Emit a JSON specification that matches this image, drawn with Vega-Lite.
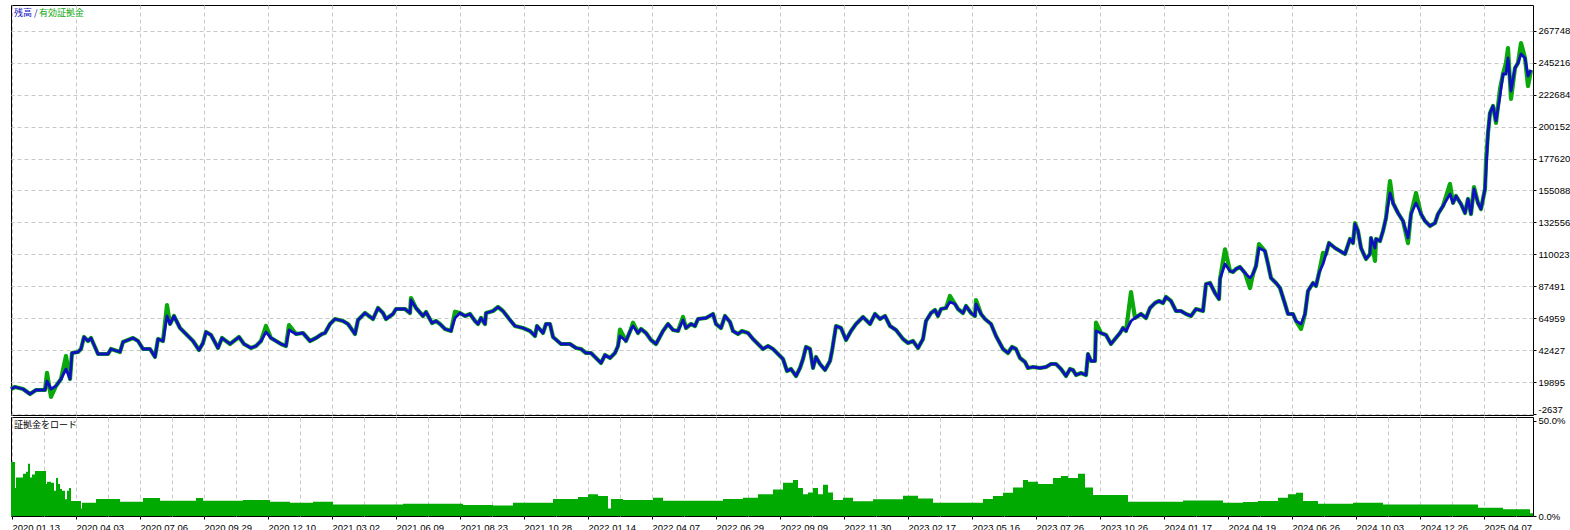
{
  "$schema": "https://vega.github.io/schema/vega-lite/v6.json",
  "background": "white",
  "padding": {"left": 8, "top": 4, "right": 0, "bottom": 0},
  "spacing": 2,
  "bounds": "flush",
  "config": {
    "view": {"stroke": "black", "strokeWidth": 1},
    "axis": {"labelFont": "Liberation Sans", "labelFontSize": 9.5, "labelColor": "#000000", "domain": false, "title": null, "labelOverlap": false, "labelSeparation": 0},
    "axisY": {"labelOverlap": false},
    "legend": {"padding": 0}
  },
  "resolve": {"scale": {"x": "shared", "y": "independent", "color": "independent"}, "legend": {"color": "independent"}},
  "datasets": {
    "eq": [
      {"t": -1, "balance": 15101, "equity": 15101},
      {"t": 3, "balance": 16512, "equity": 16512},
      {"t": 11, "balance": 15101, "equity": 15101},
      {"t": 18, "balance": 11575, "equity": 11575},
      {"t": 24, "balance": 14396, "equity": 14396},
      {"t": 33, "balance": 14396, "equity": 14396},
      {"t": 35, "balance": 20743, "equity": 26562},
      {"t": 39, "balance": 15101, "equity": 9457},
      {"t": 44, "balance": 17217, "equity": 17217},
      {"t": 49, "balance": 22153, "equity": 22153},
      {"t": 54, "balance": 29205, "equity": 38373},
      {"t": 58, "balance": 22153, "equity": 22153},
      {"t": 60, "balance": 40489, "equity": 40489},
      {"t": 66, "balance": 41194, "equity": 41194},
      {"t": 69, "balance": 43309, "equity": 43309},
      {"t": 72, "balance": 51772, "equity": 51772},
      {"t": 76, "balance": 48951, "equity": 48951},
      {"t": 79, "balance": 51067, "equity": 51067},
      {"t": 86, "balance": 39783, "equity": 39783},
      {"t": 96, "balance": 39783, "equity": 39783},
      {"t": 99, "balance": 43309, "equity": 43309},
      {"t": 108, "balance": 41194, "equity": 41194},
      {"t": 111, "balance": 48246, "equity": 48246},
      {"t": 121, "balance": 51067, "equity": 51067},
      {"t": 126, "balance": 48951, "equity": 48951},
      {"t": 131, "balance": 43309, "equity": 43309},
      {"t": 138, "balance": 43309, "equity": 43309},
      {"t": 143, "balance": 37668, "equity": 37668},
      {"t": 146, "balance": 50361, "equity": 50361},
      {"t": 151, "balance": 48951, "equity": 48951},
      {"t": 155, "balance": 66581, "equity": 74339},
      {"t": 158, "balance": 60939, "equity": 60939},
      {"t": 162, "balance": 66581, "equity": 66581},
      {"t": 168, "balance": 58119, "equity": 58119},
      {"t": 174, "balance": 53887, "equity": 53887},
      {"t": 181, "balance": 48951, "equity": 48951},
      {"t": 187, "balance": 42604, "equity": 42604},
      {"t": 191, "balance": 47541, "equity": 47541},
      {"t": 194, "balance": 55298, "equity": 55298},
      {"t": 199, "balance": 53182, "equity": 53182},
      {"t": 206, "balance": 44015, "equity": 44015},
      {"t": 210, "balance": 51067, "equity": 51067},
      {"t": 218, "balance": 46835, "equity": 46835},
      {"t": 227, "balance": 51772, "equity": 51772},
      {"t": 232, "balance": 46835, "equity": 46835},
      {"t": 239, "balance": 44015, "equity": 44015},
      {"t": 244, "balance": 45425, "equity": 45425},
      {"t": 249, "balance": 48951, "equity": 48951},
      {"t": 254, "balance": 55298, "equity": 59529},
      {"t": 259, "balance": 51067, "equity": 51067},
      {"t": 264, "balance": 48951, "equity": 48951},
      {"t": 269, "balance": 46835, "equity": 46835},
      {"t": 274, "balance": 45425, "equity": 45425},
      {"t": 277, "balance": 56708, "equity": 60234},
      {"t": 284, "balance": 53887, "equity": 53887},
      {"t": 291, "balance": 54593, "equity": 54593},
      {"t": 298, "balance": 48951, "equity": 48951},
      {"t": 304, "balance": 51067, "equity": 51067},
      {"t": 310, "balance": 53887, "equity": 53887},
      {"t": 313, "balance": 54593, "equity": 54593},
      {"t": 318, "balance": 60939, "equity": 60939},
      {"t": 323, "balance": 64465, "equity": 64465},
      {"t": 331, "balance": 63055, "equity": 63055},
      {"t": 336, "balance": 60939, "equity": 60939},
      {"t": 343, "balance": 53887, "equity": 53887},
      {"t": 346, "balance": 63760, "equity": 63760},
      {"t": 353, "balance": 68697, "equity": 68697},
      {"t": 361, "balance": 64465, "equity": 64465},
      {"t": 366, "balance": 72223, "equity": 72223},
      {"t": 371, "balance": 68697, "equity": 68697},
      {"t": 374, "balance": 64465, "equity": 64465},
      {"t": 381, "balance": 67991, "equity": 67991},
      {"t": 384, "balance": 71517, "equity": 71517},
      {"t": 393, "balance": 71517, "equity": 71517},
      {"t": 398, "balance": 68697, "equity": 68697},
      {"t": 399, "balance": 77864, "equity": 79275},
      {"t": 404, "balance": 72223, "equity": 72223},
      {"t": 411, "balance": 66581, "equity": 66581},
      {"t": 414, "balance": 69402, "equity": 69402},
      {"t": 420, "balance": 61645, "equity": 61645},
      {"t": 424, "balance": 63055, "equity": 63055},
      {"t": 428, "balance": 60939, "equity": 60939},
      {"t": 433, "balance": 57413, "equity": 57413},
      {"t": 439, "balance": 56003, "equity": 56003},
      {"t": 443, "balance": 65171, "equity": 69590},
      {"t": 448, "balance": 68697, "equity": 68697},
      {"t": 453, "balance": 66581, "equity": 66581},
      {"t": 458, "balance": 67991, "equity": 67991},
      {"t": 463, "balance": 63055, "equity": 63055},
      {"t": 466, "balance": 60939, "equity": 60939},
      {"t": 469, "balance": 65171, "equity": 65171},
      {"t": 473, "balance": 60939, "equity": 60939},
      {"t": 474, "balance": 68697, "equity": 68697},
      {"t": 481, "balance": 70107, "equity": 70107},
      {"t": 486, "balance": 72928, "equity": 72928},
      {"t": 491, "balance": 70107, "equity": 70107},
      {"t": 498, "balance": 63760, "equity": 63760},
      {"t": 503, "balance": 59529, "equity": 59529},
      {"t": 511, "balance": 58119, "equity": 58119},
      {"t": 518, "balance": 56003, "equity": 56003},
      {"t": 523, "balance": 52477, "equity": 52477},
      {"t": 525, "balance": 59529, "equity": 59529},
      {"t": 531, "balance": 54593, "equity": 54593},
      {"t": 534, "balance": 60939, "equity": 60939},
      {"t": 538, "balance": 60939, "equity": 60939},
      {"t": 541, "balance": 51772, "equity": 51772},
      {"t": 549, "balance": 46835, "equity": 46835},
      {"t": 558, "balance": 46835, "equity": 46835},
      {"t": 564, "balance": 44015, "equity": 44015},
      {"t": 569, "balance": 43309, "equity": 43309},
      {"t": 574, "balance": 40489, "equity": 40489},
      {"t": 579, "balance": 40489, "equity": 40489},
      {"t": 584, "balance": 36963, "equity": 36963},
      {"t": 589, "balance": 33437, "equity": 33437},
      {"t": 593, "balance": 39078, "equity": 39078},
      {"t": 598, "balance": 36963, "equity": 36963},
      {"t": 603, "balance": 40489, "equity": 40489},
      {"t": 606, "balance": 45425, "equity": 45425},
      {"t": 608, "balance": 52477, "equity": 57000},
      {"t": 614, "balance": 48951, "equity": 48951},
      {"t": 619, "balance": 57413, "equity": 57413},
      {"t": 621, "balance": 59529, "equity": 61857},
      {"t": 626, "balance": 54593, "equity": 54593},
      {"t": 629, "balance": 57413, "equity": 57413},
      {"t": 634, "balance": 54593, "equity": 54593},
      {"t": 639, "balance": 49656, "equity": 49656},
      {"t": 644, "balance": 46835, "equity": 46835},
      {"t": 651, "balance": 56003, "equity": 56003},
      {"t": 656, "balance": 60939, "equity": 60939},
      {"t": 661, "balance": 56708, "equity": 56708},
      {"t": 666, "balance": 56003, "equity": 56003},
      {"t": 671, "balance": 63760, "equity": 65876},
      {"t": 674, "balance": 58119, "equity": 58119},
      {"t": 679, "balance": 60939, "equity": 60939},
      {"t": 683, "balance": 59529, "equity": 59529},
      {"t": 686, "balance": 64465, "equity": 64465},
      {"t": 694, "balance": 65171, "equity": 65171},
      {"t": 701, "balance": 67991, "equity": 67991},
      {"t": 704, "balance": 60939, "equity": 60939},
      {"t": 709, "balance": 58119, "equity": 58119},
      {"t": 713, "balance": 66581, "equity": 66581},
      {"t": 718, "balance": 62350, "equity": 62350},
      {"t": 721, "balance": 56003, "equity": 56003},
      {"t": 726, "balance": 53887, "equity": 53887},
      {"t": 730, "balance": 56003, "equity": 56003},
      {"t": 736, "balance": 54593, "equity": 54593},
      {"t": 741, "balance": 50361, "equity": 50361},
      {"t": 746, "balance": 46835, "equity": 46835},
      {"t": 751, "balance": 43309, "equity": 43309},
      {"t": 756, "balance": 45425, "equity": 45425},
      {"t": 761, "balance": 43309, "equity": 43309},
      {"t": 766, "balance": 39783, "equity": 39783},
      {"t": 771, "balance": 36257, "equity": 36257},
      {"t": 775, "balance": 27795, "equity": 27795},
      {"t": 779, "balance": 29205, "equity": 29205},
      {"t": 784, "balance": 24269, "equity": 24269},
      {"t": 788, "balance": 29911, "equity": 29911},
      {"t": 791, "balance": 36257, "equity": 36257},
      {"t": 794, "balance": 44719, "equity": 44719},
      {"t": 798, "balance": 43309, "equity": 43309},
      {"t": 801, "balance": 29911, "equity": 29911},
      {"t": 804, "balance": 37668, "equity": 37668},
      {"t": 808, "balance": 32731, "equity": 32731},
      {"t": 813, "balance": 28500, "equity": 28500},
      {"t": 818, "balance": 34847, "equity": 34847},
      {"t": 820, "balance": 41899, "equity": 41899},
      {"t": 824, "balance": 59529, "equity": 59529},
      {"t": 829, "balance": 58119, "equity": 58119},
      {"t": 834, "balance": 49656, "equity": 49656},
      {"t": 839, "balance": 56003, "equity": 56003},
      {"t": 844, "balance": 60939, "equity": 60939},
      {"t": 851, "balance": 65876, "equity": 65876},
      {"t": 858, "balance": 60939, "equity": 60939},
      {"t": 863, "balance": 67991, "equity": 67991},
      {"t": 868, "balance": 64465, "equity": 64465},
      {"t": 873, "balance": 66581, "equity": 66581},
      {"t": 878, "balance": 59529, "equity": 59529},
      {"t": 884, "balance": 56708, "equity": 56708},
      {"t": 891, "balance": 50361, "equity": 50361},
      {"t": 896, "balance": 47541, "equity": 47541},
      {"t": 901, "balance": 48951, "equity": 48951},
      {"t": 906, "balance": 44015, "equity": 44015},
      {"t": 911, "balance": 50361, "equity": 50361},
      {"t": 914, "balance": 63055, "equity": 63055},
      {"t": 919, "balance": 68697, "equity": 68697},
      {"t": 923, "balance": 70812, "equity": 70812},
      {"t": 926, "balance": 66581, "equity": 66581},
      {"t": 929, "balance": 71517, "equity": 71517},
      {"t": 934, "balance": 72223, "equity": 72223},
      {"t": 938, "balance": 76454, "equity": 80685},
      {"t": 943, "balance": 75043, "equity": 75043},
      {"t": 946, "balance": 71517, "equity": 71517},
      {"t": 951, "balance": 68697, "equity": 68697},
      {"t": 954, "balance": 73633, "equity": 73633},
      {"t": 959, "balance": 68697, "equity": 68697},
      {"t": 963, "balance": 66581, "equity": 66581},
      {"t": 964, "balance": 75043, "equity": 77864},
      {"t": 969, "balance": 67991, "equity": 67991},
      {"t": 973, "balance": 64465, "equity": 64465},
      {"t": 979, "balance": 60939, "equity": 60939},
      {"t": 984, "balance": 52477, "equity": 52477},
      {"t": 991, "balance": 43309, "equity": 43309},
      {"t": 996, "balance": 40489, "equity": 40489},
      {"t": 1000, "balance": 44719, "equity": 44719},
      {"t": 1004, "balance": 43309, "equity": 43309},
      {"t": 1008, "balance": 36963, "equity": 36963},
      {"t": 1013, "balance": 34142, "equity": 34142},
      {"t": 1016, "balance": 29911, "equity": 29911},
      {"t": 1021, "balance": 30616, "equity": 30616},
      {"t": 1028, "balance": 29911, "equity": 29911},
      {"t": 1034, "balance": 30616, "equity": 30616},
      {"t": 1039, "balance": 32731, "equity": 32731},
      {"t": 1044, "balance": 32731, "equity": 32731},
      {"t": 1049, "balance": 29205, "equity": 29205},
      {"t": 1054, "balance": 24269, "equity": 24269},
      {"t": 1058, "balance": 29205, "equity": 29205},
      {"t": 1061, "balance": 28500, "equity": 28500},
      {"t": 1064, "balance": 24974, "equity": 24974},
      {"t": 1069, "balance": 26385, "equity": 26385},
      {"t": 1074, "balance": 24974, "equity": 24974},
      {"t": 1076, "balance": 39783, "equity": 39783},
      {"t": 1079, "balance": 34847, "equity": 34847},
      {"t": 1083, "balance": 34847, "equity": 34847},
      {"t": 1084, "balance": 56003, "equity": 61857},
      {"t": 1089, "balance": 54593, "equity": 54593},
      {"t": 1094, "balance": 53182, "equity": 53182},
      {"t": 1099, "balance": 46835, "equity": 46835},
      {"t": 1103, "balance": 50361, "equity": 50361},
      {"t": 1108, "balance": 54593, "equity": 54593},
      {"t": 1111, "balance": 58119, "equity": 58119},
      {"t": 1114, "balance": 56003, "equity": 56003},
      {"t": 1119, "balance": 63055, "equity": 83506},
      {"t": 1123, "balance": 65171, "equity": 65171},
      {"t": 1129, "balance": 67991, "equity": 67991},
      {"t": 1134, "balance": 65171, "equity": 65171},
      {"t": 1138, "balance": 72223, "equity": 72223},
      {"t": 1143, "balance": 75749, "equity": 75749},
      {"t": 1147, "balance": 77159, "equity": 77159},
      {"t": 1151, "balance": 75749, "equity": 75749},
      {"t": 1154, "balance": 79980, "equity": 79980},
      {"t": 1159, "balance": 77159, "equity": 77159},
      {"t": 1164, "balance": 70107, "equity": 70107},
      {"t": 1169, "balance": 70107, "equity": 70107},
      {"t": 1174, "balance": 67991, "equity": 67991},
      {"t": 1179, "balance": 66581, "equity": 66581},
      {"t": 1184, "balance": 71517, "equity": 71517},
      {"t": 1191, "balance": 70107, "equity": 70107},
      {"t": 1194, "balance": 89147, "equity": 89147},
      {"t": 1198, "balance": 89853, "equity": 89853},
      {"t": 1203, "balance": 82801, "equity": 82801},
      {"t": 1207, "balance": 78569, "equity": 78569},
      {"t": 1208, "balance": 92673, "equity": 92673},
      {"t": 1213, "balance": 103251, "equity": 113615},
      {"t": 1218, "balance": 98315, "equity": 98315},
      {"t": 1221, "balance": 97610, "equity": 97610},
      {"t": 1224, "balance": 99725, "equity": 99725},
      {"t": 1228, "balance": 101136, "equity": 101136},
      {"t": 1233, "balance": 96905, "equity": 96905},
      {"t": 1238, "balance": 93379, "equity": 86327},
      {"t": 1241, "balance": 96199, "equity": 96199},
      {"t": 1244, "balance": 101841, "equity": 101841},
      {"t": 1247, "balance": 114535, "equity": 117356},
      {"t": 1253, "balance": 112419, "equity": 112419},
      {"t": 1256, "balance": 103251, "equity": 103251},
      {"t": 1259, "balance": 93379, "equity": 93379},
      {"t": 1264, "balance": 89853, "equity": 89853},
      {"t": 1268, "balance": 86327, "equity": 86327},
      {"t": 1273, "balance": 75043, "equity": 75043},
      {"t": 1276, "balance": 67991, "equity": 67991},
      {"t": 1281, "balance": 67991, "equity": 67991},
      {"t": 1284, "balance": 63055, "equity": 63055},
      {"t": 1289, "balance": 60939, "equity": 57413},
      {"t": 1293, "balance": 67991, "equity": 67991},
      {"t": 1296, "balance": 84211, "equity": 84211},
      {"t": 1301, "balance": 89853, "equity": 89853},
      {"t": 1304, "balance": 87737, "equity": 87737},
      {"t": 1307, "balance": 96905, "equity": 96905},
      {"t": 1311, "balance": 103251, "equity": 111009},
      {"t": 1314, "balance": 110303, "equity": 110303},
      {"t": 1317, "balance": 118061, "equity": 118061},
      {"t": 1323, "balance": 114535, "equity": 114535},
      {"t": 1328, "balance": 112419, "equity": 112419},
      {"t": 1333, "balance": 110303, "equity": 110303},
      {"t": 1338, "balance": 120881, "equity": 120881},
      {"t": 1341, "balance": 118061, "equity": 118061},
      {"t": 1343, "balance": 131459, "equity": 132165},
      {"t": 1346, "balance": 126523, "equity": 126523},
      {"t": 1349, "balance": 114535, "equity": 114535},
      {"t": 1354, "balance": 106777, "equity": 106777},
      {"t": 1358, "balance": 110303, "equity": 110303},
      {"t": 1359, "balance": 121587, "equity": 121587},
      {"t": 1363, "balance": 114535, "equity": 105367},
      {"t": 1364, "balance": 120881, "equity": 120881},
      {"t": 1368, "balance": 119471, "equity": 119471},
      {"t": 1371, "balance": 126523, "equity": 126523},
      {"t": 1374, "balance": 135691, "equity": 135691},
      {"t": 1378, "balance": 153321, "equity": 161783},
      {"t": 1381, "balance": 146269, "equity": 146269},
      {"t": 1386, "balance": 139217, "equity": 139217},
      {"t": 1391, "balance": 133575, "equity": 133575},
      {"t": 1396, "balance": 121587, "equity": 118000},
      {"t": 1399, "balance": 138511, "equity": 138511},
      {"t": 1404, "balance": 146269, "equity": 153321},
      {"t": 1409, "balance": 138511, "equity": 138511},
      {"t": 1413, "balance": 133575, "equity": 133575},
      {"t": 1418, "balance": 130049, "equity": 130049},
      {"t": 1423, "balance": 132165, "equity": 132165},
      {"t": 1426, "balance": 138511, "equity": 138511},
      {"t": 1431, "balance": 144153, "equity": 144153},
      {"t": 1438, "balance": 152615, "equity": 159666},
      {"t": 1441, "balance": 146269, "equity": 146269},
      {"t": 1444, "balance": 151205, "equity": 151205},
      {"t": 1449, "balance": 145563, "equity": 145563},
      {"t": 1453, "balance": 139217, "equity": 139217},
      {"t": 1456, "balance": 149089, "equity": 149089},
      {"t": 1459, "balance": 138511, "equity": 138511},
      {"t": 1462, "balance": 156141, "equity": 157550},
      {"t": 1466, "balance": 146269, "equity": 146269},
      {"t": 1469, "balance": 142037, "equity": 142037},
      {"t": 1473, "balance": 156141, "equity": 156141},
      {"t": 1474, "balance": 168835, "equity": 175887},
      {"t": 1476, "balance": 195633, "equity": 195633},
      {"t": 1478, "balance": 209737, "equity": 209737},
      {"t": 1481, "balance": 214673, "equity": 214673},
      {"t": 1484, "balance": 204095, "equity": 202684},
      {"t": 1488, "balance": 221725, "equity": 226662},
      {"t": 1491, "balance": 237239, "equity": 237239},
      {"t": 1494, "balance": 237239, "equity": 244997},
      {"t": 1496, "balance": 248523, "equity": 255574},
      {"t": 1499, "balance": 225251, "equity": 219609},
      {"t": 1503, "balance": 241471, "equity": 241471},
      {"t": 1506, "balance": 244997, "equity": 244997},
      {"t": 1509, "balance": 251343, "equity": 259100},
      {"t": 1513, "balance": 248523, "equity": 248523},
      {"t": 1516, "balance": 235829, "equity": 228777},
      {"t": 1519, "balance": 240060, "equity": 240060}
    ],
    "load": [
      {"t": -1, "pct": 28.4}, {"t": 3, "pct": 14.7}, {"t": 4, "pct": 20.2}, {"t": 11, "pct": 22.3},
      {"t": 14, "pct": 23.3}, {"t": 16, "pct": 27.5}, {"t": 18, "pct": 20.2}, {"t": 20, "pct": 21.8},
      {"t": 23, "pct": 23.7}, {"t": 34, "pct": 16.8}, {"t": 35, "pct": 18}, {"t": 39, "pct": 17.5},
      {"t": 42, "pct": 13.3}, {"t": 44, "pct": 20}, {"t": 46, "pct": 16.8}, {"t": 48, "pct": 14.2},
      {"t": 50, "pct": 13.3}, {"t": 53, "pct": 8.8}, {"t": 55, "pct": 13.3}, {"t": 57, "pct": 14.7},
      {"t": 59, "pct": 7.9}, {"t": 69, "pct": 4}, {"t": 70, "pct": 7}, {"t": 84, "pct": 9},
      {"t": 108, "pct": 7.5}, {"t": 131, "pct": 9.5}, {"t": 148, "pct": 8}, {"t": 184, "pct": 9.5},
      {"t": 191, "pct": 8}, {"t": 231, "pct": 8.4}, {"t": 258, "pct": 7.5}, {"t": 278, "pct": 7},
      {"t": 301, "pct": 7.5}, {"t": 321, "pct": 6}, {"t": 391, "pct": 6.5}, {"t": 451, "pct": 5.8},
      {"t": 481, "pct": 5.5}, {"t": 501, "pct": 7}, {"t": 541, "pct": 9}, {"t": 566, "pct": 10},
      {"t": 576, "pct": 11.5}, {"t": 586, "pct": 10.5}, {"t": 596, "pct": 4}, {"t": 599, "pct": 9},
      {"t": 611, "pct": 8.4}, {"t": 641, "pct": 9.6}, {"t": 651, "pct": 8}, {"t": 711, "pct": 9},
      {"t": 731, "pct": 9.6}, {"t": 746, "pct": 11.5}, {"t": 761, "pct": 14}, {"t": 771, "pct": 17.5},
      {"t": 781, "pct": 19}, {"t": 786, "pct": 14.8}, {"t": 791, "pct": 11.5}, {"t": 796, "pct": 12.4},
      {"t": 801, "pct": 14.8}, {"t": 806, "pct": 11.5}, {"t": 811, "pct": 16.5}, {"t": 816, "pct": 12.4},
      {"t": 821, "pct": 8.4}, {"t": 831, "pct": 9.6}, {"t": 841, "pct": 7.7}, {"t": 861, "pct": 8.8},
      {"t": 891, "pct": 10.6}, {"t": 906, "pct": 9.2}, {"t": 921, "pct": 7}, {"t": 971, "pct": 9},
      {"t": 981, "pct": 10.5}, {"t": 991, "pct": 12.3}, {"t": 1001, "pct": 15}, {"t": 1011, "pct": 19},
      {"t": 1016, "pct": 18}, {"t": 1026, "pct": 16.8}, {"t": 1041, "pct": 20}, {"t": 1049, "pct": 21},
      {"t": 1056, "pct": 20}, {"t": 1066, "pct": 22.3}, {"t": 1073, "pct": 15}, {"t": 1081, "pct": 11},
      {"t": 1116, "pct": 7.5}, {"t": 1171, "pct": 8.2}, {"t": 1211, "pct": 7}, {"t": 1231, "pct": 7.4},
      {"t": 1246, "pct": 7.9}, {"t": 1266, "pct": 9.6}, {"t": 1276, "pct": 11.4}, {"t": 1284, "pct": 12.3},
      {"t": 1291, "pct": 7.9}, {"t": 1306, "pct": 6.5}, {"t": 1341, "pct": 7}, {"t": 1371, "pct": 6.1},
      {"t": 1466, "pct": 4.4}, {"t": 1491, "pct": 3.5}, {"t": 1518, "pct": 1.5}, {"t": 1521, "pct": 1.5}
    ]
  },
  "vconcat": [
    {
      "width": 1522,
      "height": 410,
      "data": {"name": "eq"},
      "layer": [
        {
          "mark": {"type": "line", "strokeWidth": 4.2, "strokeJoin": "round"},
          "encoding": {
            "x": {"field": "t", "type": "quantitative", "scale": {"domain": [-1, 1521], "nice": false, "zero": false},
              "axis": {"values": [0,32,64,96,128,160,192,224,256,288,320,352,384,416,448,480,512,544,576,608,640,672,704,736,768,800,832,864,896,928,960,992,1024,1056,1088,1120,1152,1184,1216,1248,1280,1312,1344,1376,1408,1440,1472,1504],
                "labels": false, "ticks": false, "grid": true, "gridColor": "#c8c8c8", "gridDash": [4, 3], "gridWidth": 1}},
            "y": {"field": "equity", "type": "quantitative", "scale": {"domain": [-3234, 285898], "nice": false, "zero": false},
              "axis": {"orient": "right", "values": [-2637, 19895, 42427, 64959, 87491, 110023, 132556, 155088, 177620, 200152, 222684, 245216, 267748],
                "labelExpr": "'' + datum.value", "grid": true, "gridColor": "#c8c8c8", "gridDash": [4, 3], "tickSize": 3, "tickColor": "#000000", "labelPadding": 2, "labelOverlap": false, "labelFlush": false, "labelSeparation": 0,
                "labelBaseline": {"condition": {"test": "datum.value < 0", "value": "bottom"}, "value": "middle"}}},
            "color": {"datum": "有効証拠金", "scale": {"domain": ["残高", "有効証拠金"], "range": ["#1010c0", "#0aa80a"]},
              "legend": {"orient": "top-left", "direction": "horizontal", "title": null, "offset": 3, "symbolSize": 0, "symbolStrokeWidth": 0, "symbolOpacity": 0, "labelOffset": -9, "columnPadding": 1,
                "labelFont": "Noto Sans CJK JP", "labelFontSize": 9,
                "labelExpr": "datum.value == '残高' ? '残高 /' : datum.label",
                "encode": {"labels": {"update": {"fill": {"signal": "datum.value == '残高' ? '#1010c0' : '#0aa80a'"}}}}}}
          }
        },
        {
          "mark": {"type": "line", "strokeWidth": 2.8, "strokeJoin": "round"},
          "encoding": {
            "x": {"field": "t", "type": "quantitative"},
            "y": {"field": "balance", "type": "quantitative",
              "axis": {"orient": "right", "values": [-2637, 19895, 42427, 64959, 87491, 110023, 132556, 155088, 177620, 200152, 222684, 245216, 267748],
                "labelExpr": "'' + datum.value", "grid": true, "gridColor": "#c8c8c8", "gridDash": [4, 3], "tickSize": 3, "tickColor": "#000000", "labelPadding": 2, "labelOverlap": false, "labelFlush": false, "labelSeparation": 0,
                "labelBaseline": {"condition": {"test": "datum.value < 0", "value": "bottom"}, "value": "middle"}}},
            "color": {"datum": "残高"}
          }
        }
      ]
    },
    {
      "width": 1522,
      "height": 99,
      "data": {"name": "load"},
      "mark": {"type": "area", "interpolate": "step-after"},
      "encoding": {
        "x": {"field": "t", "type": "quantitative", "scale": {"domain": [-1, 1521], "nice": false, "zero": false},
          "axis": {"values": [0,32,64,96,128,160,192,224,256,288,320,352,384,416,448,480,512,544,576,608,640,672,704,736,768,800,832,864,896,928,960,992,1024,1056,1088,1120,1152,1184,1216,1248,1280,1312,1344,1376,1408,1440,1472,1504],
            "labelExpr": "datum.value % 64 == 0 ? ['2020.01.13','2020.04.03','2020.07.06','2020.09.29','2020.12.10','2021.03.02','2021.06.09','2021.08.23','2021.10.28','2022.01.14','2022.04.07','2022.06.29','2022.09.09','2022.11.30','2023.02.17','2023.05.16','2023.07.26','2023.10.26','2024.01.17','2024.04.19','2024.06.26','2024.10.03','2024.12.26','2025.04.07'][datum.value / 64] : ''",
            "labelAlign": "left", "labelBaseline": "top", "labelPadding": 3, "labelOverlap": false, "labelFlush": false,
            "tickSize": 3, "tickColor": {"condition": {"test": "datum.value % 64 == 0", "value": "#000000"}, "value": "transparent"},
            "grid": true, "gridColor": "#c8c8c8", "gridDash": [4, 3]}},
        "y": {"field": "pct", "type": "quantitative", "scale": {"domain": [0, 52.1], "nice": false},
          "axis": {"orient": "right", "values": [0, 50], "labelExpr": "format(datum.value, '.1f') + '%'", "grid": false, "tickSize": 3, "tickColor": "#000000", "labelPadding": 2, "labelFlush": false, "labelOverlap": false}},
        "color": {"datum": "証拠金をロード", "scale": {"domain": ["証拠金をロード"], "range": ["#00aa00"]},
          "legend": {"orient": "top-left", "title": null, "offset": 3, "symbolSize": 0, "symbolStrokeWidth": 0, "symbolOpacity": 0, "labelOffset": -9,
            "labelFont": "Noto Sans CJK JP", "labelFontSize": 9, "labelColor": "#000000"}}
      }
    }
  ]
}
